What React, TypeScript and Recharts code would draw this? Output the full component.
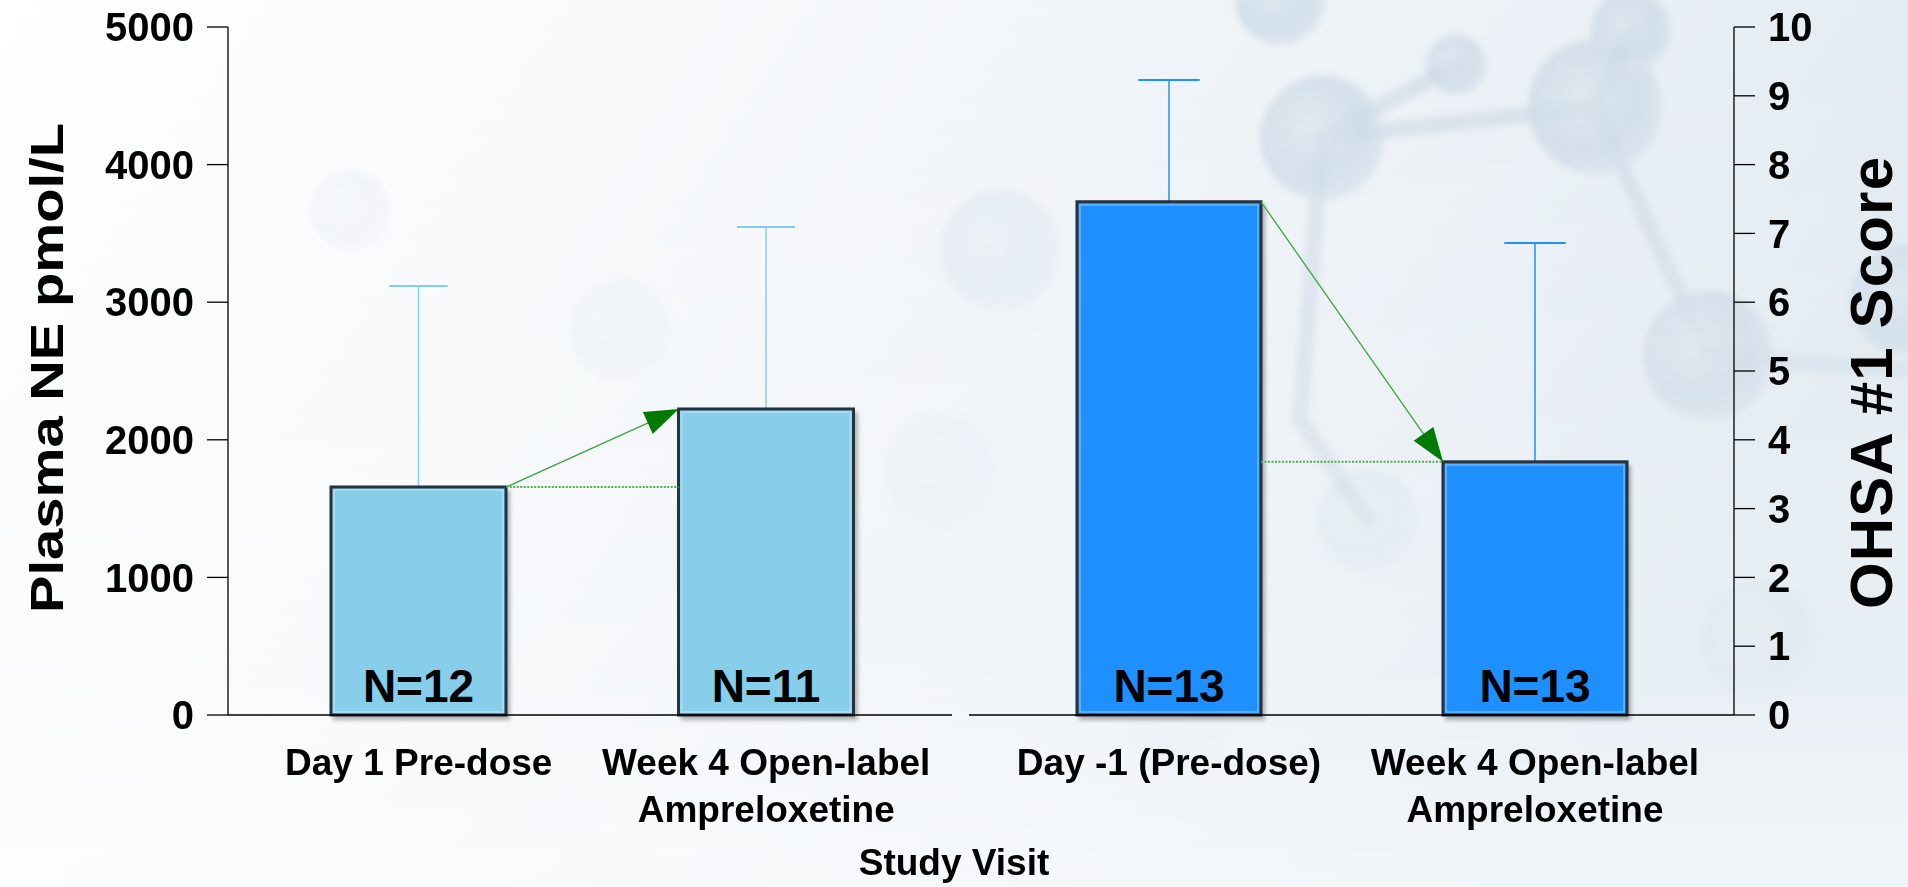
import React from 'react';
import { BarChart, Bar, XAxis, YAxis, ReferenceLine } from 'recharts';

const FONT = '"Liberation Sans", Arial, Helvetica, sans-serif';

// ---- data ----
const leftCategories = ['Day 1 Pre-dose', 'Week 4 Open-label\nAmpreloxetine'];
const plasmaNE = [1657, 2224];
const plasmaNEErr = [1460, 1322];
const leftN = ['N=12', 'N=11'];
const leftTicks = [0, 1000, 2000, 3000, 4000, 5000];

const rightCategories = ['Day -1 (Pre-dose)', 'Week 4 Open-label\nAmpreloxetine'];
const ohsaScore = [7.46, 3.68];
const ohsaErr = [1.77, 3.18];
const rightN = ['N=13', 'N=13'];
const rightTicks = [0, 1, 2, 3, 4, 5, 6, 7, 8, 9, 10];

const leftData = leftCategories.map((c, i) => ({ visit: c, value: plasmaNE[i], err: plasmaNEErr[i], n: leftN[i] }));
const rightData = rightCategories.map((c, i) => ({ visit: c, value: ohsaScore[i], err: ohsaErr[i], n: rightN[i] }));

const LEFT_BAR = 175;
const RIGHT_BAR = 184;

function makeBarShape(fill: string, errColor: string) {
  return (p: any) => {
    const { x, y, width, height, payload } = p;
    const ppu = height / payload.value;
    const errTop = y - payload.err * ppu;
    const cx = x + width / 2;
    const capHalf = width / 6;
    return (
      <g>
        <line x1={cx} y1={errTop} x2={cx} y2={y} stroke={errColor} strokeWidth={1.5} />
        <line x1={cx - capHalf} y1={errTop} x2={cx + capHalf} y2={errTop} stroke={errColor} strokeWidth={2} />
        <rect x={x + 2} y={y + 3} width={width + 2} height={height + 2} fill="#000" opacity={0.3} filter="url(#barShadow)" />
        <rect x={x} y={y} width={width} height={height} fill={fill} stroke="#26323d" strokeWidth={3} />
        <rect x={x + 3} y={y + 3} width={width - 6} height={Math.max(0, height - 6)} fill="none" stroke="rgba(255,255,255,0.28)" strokeWidth={2} />
        <text x={cx} y={y + height - 13} textAnchor="middle" fontFamily={FONT} fontWeight="bold" fontSize={46} fill="#000">
          {payload.n}
        </text>
      </g>
    );
  };
}

const arrowShape = (half: number) => (p: any) => {
  const x1 = p.x1 + half;
  const x2 = p.x2 - half;
  const y1 = p.y1;
  const y2 = p.y2;
  const dx = x2 - x1;
  const dy = y2 - y1;
  const len = Math.hypot(dx, dy);
  const ux = dx / len;
  const uy = dy / len;
  const headLen = 34;
  const headW = 12;
  const bx = x2 - ux * headLen;
  const by = y2 - uy * headLen;
  const pts = `${x2},${y2} ${bx - uy * headW},${by + ux * headW} ${bx + uy * headW},${by - ux * headW}`;
  return (
    <g>
      <line x1={x1} y1={y1} x2={bx + ux * 4} y2={by + uy * 4} stroke="#3aa63a" strokeWidth={1.3} />
      <polygon points={pts} fill="#007a00" />
    </g>
  );
};

const dottedShape = (half: number) => (p: any) => (
  <line x1={p.x1 + half} y1={p.y1} x2={p.x2 - half} y2={p.y2} stroke="#4cb04c" strokeWidth={2} strokeDasharray="2 1.5" />
);

const XTick = (p: any) => {
  const { x, y, payload } = p;
  const lines = String(payload.value).split('\n');
  return (
    <text textAnchor="middle" fontFamily={FONT} fontWeight="bold" fontSize={37} fill="#000">
      {lines.map((l, i) => (
        <tspan key={i} x={x} y={y + 60 + i * 47}>
          {l}
        </tspan>
      ))}
    </text>
  );
};

const LeftTitle = (p: any) => {
  const vb = p.viewBox || { x: 0, y: 27, width: 228, height: 688 };
  const bx = vb.x + 63;
  const cy = vb.y + vb.height / 2 - 3;
  return (
    <text
      transform={`translate(${bx}, ${cy}) rotate(-90)`}
      textAnchor="middle"
      fontFamily={FONT}
      fontWeight="bold"
      fontSize={46}
      fill="#000"
      textLength={490}
      lengthAdjust="spacingAndGlyphs"
    >
      Plasma NE pmol/L
    </text>
  );
};

const RightTitle = (p: any) => {
  const vb = p.viewBox || { x: 774, y: 27, width: 174, height: 688 };
  const bx = vb.x + 158;
  const cy = vb.y + vb.height / 2 + 12;
  return (
    <text
      transform={`translate(${bx}, ${cy}) rotate(-90)`}
      textAnchor="middle"
      fontFamily={FONT}
      fontWeight="bold"
      fontSize={60}
      fill="#000"
      textLength={452}
      lengthAdjust="spacing"
    >
      OHSA #1 Score
    </text>
  );
};

const yTickStyle = { fontSize: 40, fontWeight: 'bold', fill: '#000', fontFamily: FONT };

const Background = () => (
  <svg width={1908} height={887} style={{ position: 'absolute', left: 0, top: 0 }}>
    <defs>
      <linearGradient id="bgGrad" x1="0" y1="0" x2="1" y2="0.3">
        <stop offset="0" stopColor="#ffffff" />
        <stop offset="0.35" stopColor="#f7f9fb" />
        <stop offset="0.7" stopColor="#edf2f7" />
        <stop offset="1" stopColor="#e1eaf1" />
      </linearGradient>
      <linearGradient id="bgFade" x1="0" y1="0" x2="0" y2="1">
        <stop offset="0" stopColor="#ffffff" stopOpacity="0" />
        <stop offset="0.75" stopColor="#ffffff" stopOpacity="0.25" />
        <stop offset="1" stopColor="#ffffff" stopOpacity="0.55" />
      </linearGradient>
      <radialGradient id="ball" cx="0.4" cy="0.4" r="0.6">
        <stop offset="0" stopColor="#d9e4ed" />
        <stop offset="0.7" stopColor="#c8d7e4" />
        <stop offset="1" stopColor="#d4e0ea" />
      </radialGradient>
      <filter id="barShadow" x="-20%" y="-20%" width="140%" height="140%">
        <feGaussianBlur stdDeviation="2" />
      </filter>
      <filter id="soft" x="-30%" y="-30%" width="160%" height="160%">
        <feGaussianBlur stdDeviation="3" />
      </filter>
    </defs>
    <rect x={0} y={0} width={1908} height={887} fill="url(#bgGrad)" />
    <g filter="url(#soft)">
      <g stroke="#cfdbe6" strokeWidth={16} strokeLinecap="round" opacity={0.65}>
        <line x1={1322} y1={138} x2={1595} y2={107} />
        <line x1={1322} y1={138} x2={1456} y2={65} />
        <line x1={1595} y1={107} x2={1631} y2={31} />
        <line x1={1595} y1={107} x2={1708} y2={356} />
        <line x1={1708} y1={356} x2={1908} y2={370} />
        <line x1={1322} y1={138} x2={1300} y2={420} />
        <line x1={1300} y1={420} x2={1368} y2={520} />
      </g>
      <g opacity={0.7}>
        <circle cx={1595} cy={107} r={67} fill="url(#ball)" />
        <circle cx={1322} cy={138} r={62} fill="url(#ball)" />
        <circle cx={1631} cy={31} r={40} fill="url(#ball)" />
        <circle cx={1456} cy={65} r={30} fill="url(#ball)" />
        <circle cx={1708} cy={356} r={65} fill="url(#ball)" />
        <circle cx={1905} cy={300} r={55} fill="url(#ball)" />
        <circle cx={1280} cy={0} r={45} fill="url(#ball)" />
      </g>
      <g opacity={0.3}>
        <circle cx={1368} cy={520} r={50} fill="url(#ball)" />
        <circle cx={1000} cy={250} r={60} fill="url(#ball)" />
        <circle cx={1760} cy={640} r={60} fill="url(#ball)" />
      </g>
      <g opacity={0.15}>
        <circle cx={940} cy={470} r={55} fill="url(#ball)" />
        <circle cx={620} cy={330} r={50} fill="url(#ball)" />
        <circle cx={350} cy={210} r={40} fill="url(#ball)" />
        <circle cx={1180} cy={720} r={50} fill="url(#ball)" />
      </g>
    </g>
    <rect x={0} y={0} width={1908} height={887} fill="url(#bgFade)" />
  </svg>
);

export default function App() {
  return (
    <div style={{ position: 'absolute', left: 0, top: 0, width: 1908, height: 887, overflow: 'hidden', fontFamily: FONT }}>
      <Background />
      <div style={{ position: 'absolute', left: 0, top: 0 }}>
        <BarChart width={960} height={887} data={leftData} margin={{ top: 27, right: 8, left: 0, bottom: 12 }}>
          <XAxis
            dataKey="visit"
            height={160}
            padding={{ left: 17, right: 12 }}
            tickLine={false}
            tickSize={0}
            tickMargin={0}
            axisLine={{ stroke: '#000', strokeWidth: 1.3 }}
            tick={<XTick />}
            interval={0}
          />
          <YAxis
            width={228}
            domain={[0, 5000]}
            ticks={leftTicks}
            interval={0}
            tickSize={21}
            tickMargin={13}
            tick={yTickStyle}
            tickLine={{ stroke: '#000', strokeWidth: 1.3 }}
            axisLine={{ stroke: '#000', strokeWidth: 1.3 }}
            label={<LeftTitle />}
          />
          <Bar dataKey="value" barSize={LEFT_BAR} isAnimationActive={false} shape={makeBarShape('#87ceeb', '#87ceeb')} />
          <ReferenceLine
            segment={[{ x: leftCategories[0], y: plasmaNE[0] }, { x: leftCategories[1], y: plasmaNE[0] }]}
            shape={dottedShape(LEFT_BAR / 2)}
          />
          <ReferenceLine
            segment={[{ x: leftCategories[0], y: plasmaNE[0] }, { x: leftCategories[1], y: plasmaNE[1] }]}
            shape={arrowShape(LEFT_BAR / 2)}
          />
        </BarChart>
      </div>
      <div style={{ position: 'absolute', left: 960, top: 0 }}>
        <BarChart width={948} height={887} data={rightData} margin={{ top: 27, right: 0, left: 9, bottom: 12 }}>
          <XAxis
            dataKey="visit"
            height={160}
            padding={{ left: 17, right: 16 }}
            tickLine={false}
            tickSize={0}
            tickMargin={0}
            axisLine={{ stroke: '#000', strokeWidth: 1.3 }}
            tick={<XTick />}
            interval={0}
          />
          <YAxis
            orientation="right"
            width={174}
            domain={[0, 10]}
            ticks={rightTicks}
            interval={0}
            tickSize={21}
            tickMargin={13}
            tick={yTickStyle}
            tickLine={{ stroke: '#000', strokeWidth: 1.3 }}
            axisLine={{ stroke: '#000', strokeWidth: 1.3 }}
            label={<RightTitle />}
          />
          <Bar dataKey="value" barSize={RIGHT_BAR} isAnimationActive={false} shape={makeBarShape('#1e90ff', '#1e90ff')} />
          <ReferenceLine
            segment={[{ x: rightCategories[0], y: ohsaScore[1] }, { x: rightCategories[1], y: ohsaScore[1] }]}
            shape={dottedShape(RIGHT_BAR / 2)}
          />
          <ReferenceLine
            segment={[{ x: rightCategories[0], y: ohsaScore[0] }, { x: rightCategories[1], y: ohsaScore[1] }]}
            shape={arrowShape(RIGHT_BAR / 2)}
          />
        </BarChart>
      </div>
      <svg width={1908} height={887} style={{ position: 'absolute', left: 0, top: 0, pointerEvents: 'none' }}>
        <text x={954} y={875} textAnchor="middle" fontFamily={FONT} fontWeight="bold" fontSize={37} fill="#000">
          Study Visit
        </text>
      </svg>
    </div>
  );
}
